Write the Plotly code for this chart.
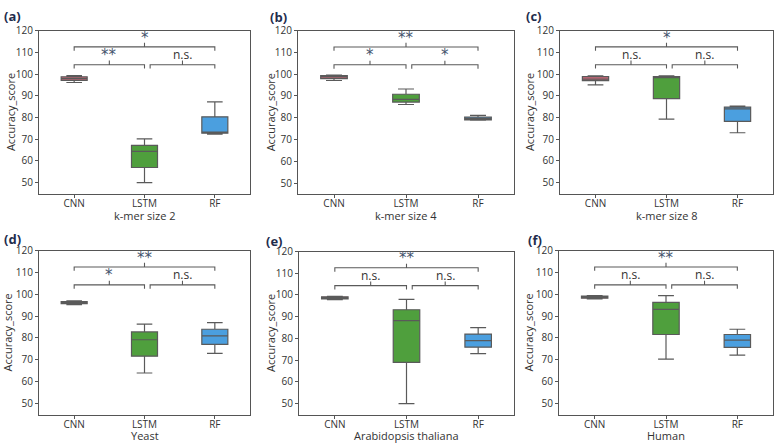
import plotly.graph_objects as go

# ---------------- data ----------------
MODELS = ["CNN", "LSTM", "RF"]
XTITLES = ["k-mer size 2", "k-mer size 4", "k-mer size 8", "Yeast", "Arabidopsis thaliana", "Human"]
YTITLE = "Accuracy_score"
PANEL_LABELS = ["(a)", "(b)", "(c)", "(d)", "(e)", "(f)"]

# rows: panels a..f ; columns: CNN, LSTM, RF
LOWER = [
    [96.1, 50.0, 72.3],
    [97.1, 86.1, 78.9],
    [95.0, 79.3, 73.0],
    [95.2, 64.0, 73.0],
    [97.9, 50.0, 73.0],
    [97.9, 70.3, 72.2],
]
Q1 = [
    [97.1, 57.0, 72.8],
    [98.0, 87.2, 79.0],
    [97.0, 88.7, 78.2],
    [95.7, 71.7, 77.1],
    [98.2, 69.0, 76.0],
    [98.2, 81.6, 75.7],
]
MEDIAN = [
    [97.9, 64.4, 73.2],
    [98.8, 88.4, 79.6],
    [97.7, 98.3, 84.0],
    [96.2, 79.2, 81.0],
    [98.9, 88.2, 79.0],
    [98.9, 93.1, 79.0],
]
Q3 = [
    [98.7, 67.2, 80.3],
    [99.3, 90.8, 80.3],
    [98.8, 98.8, 84.8],
    [96.6, 82.8, 84.0],
    [99.2, 93.2, 82.0],
    [99.2, 96.3, 81.6],
]
UPPER = [
    [99.3, 70.2, 87.2],
    [99.6, 93.2, 81.1],
    [99.2, 99.2, 85.2],
    [97.0, 86.3, 87.0],
    [99.4, 98.0, 85.0],
    [99.4, 99.4, 84.0],
]

# significance labels: CNN-LSTM, LSTM-RF, CNN-RF
SIG_LEFT = ["**", "*", "n.s.", "*", "n.s.", "n.s."]
SIG_RIGHT = ["n.s.", "*", "n.s.", "n.s.", "n.s.", "n.s."]
SIG_TOP = ["*", "**", "*", "**", "**", "**"]

COLORS = ["#d3697b", "#4f9f3d", "#4b9fdf"]

# ---------------- layout geometry (pixels) ----------------
W, H = 778, 443
X_DOM_PX = [(39, 250), (298, 514), (560, 773), (39, 250), (299, 514), (559, 773)]
Y_DOM_PX = [(23, 189), (23, 189.5), (23, 189), (247, 414), (248, 414), (247, 414)]
LABEL_POS_PX = [(2, 8), (268, 9), (524, 8), (2, 235), (264, 237), (526, 236)]
YTITLE_X_PX = [10, 270, 529, 8, 270, 529]
XTITLE_GAP_PX = [22, 22, 22, 21, 21, 21]

FONT = "Open Sans, DejaVu Sans, sans-serif"
AXCOL = "#555555"
TXTCOL = "#333333"

fig = go.Figure()
shapes = []
annotations = []

LOW_LINE, TOP_LINE = 104.3, 112.5
DROP, NOTCH = 1.8, 1.9


def bracket(x0, x1, yl, xr, yr):
    xm = (x0 + x1) / 2
    path = (f"M {x0},{yl - DROP} L {x0},{yl} L {x1},{yl} L {x1},{yl - DROP} "
            f"M {xm},{yl} L {xm},{yl + NOTCH}")
    return dict(type="path", path=path, xref=xr, yref=yr,
                line=dict(color="#5a5a5a", width=1.1))


for p in range(6):
    sfx = "" if p == 0 else str(p + 1)
    xr, yr = "x" + sfx, "y" + sfx
    for i, m in enumerate(MODELS):
        fig.add_trace(go.Box(
            x=[i], q1=[Q1[p][i]], median=[MEDIAN[p][i]], q3=[Q3[p][i]],
            lowerfence=[LOWER[p][i]], upperfence=[UPPER[p][i]],
            orientation="v", xaxis=xr, yaxis=yr,
            fillcolor=COLORS[i], line=dict(color="#5a5a5a", width=1.2),
            width=0.37, whiskerwidth=0.6, showlegend=False, boxpoints=False,
            name=m,
        ))
    x0, x1 = X_DOM_PX[p]
    ytop, ybot = Y_DOM_PX[p]
    fig.layout["xaxis" + sfx] = dict(
        domain=[x0 / W, x1 / W], anchor=yr, range=[-0.5, 2.5],
        tickvals=[0, 1, 2], ticktext=MODELS,
        showline=True, mirror=True, linecolor=AXCOL, linewidth=1,
        ticks="outside", ticklen=3, tickcolor=AXCOL, showgrid=False, zeroline=False,
        tickfont=dict(size=10, color=TXTCOL, family=FONT), ticklabelstandoff=-3,
    )
    fig.layout["yaxis" + sfx] = dict(
        domain=[1 - ybot / H, 1 - ytop / H], anchor=xr, range=[45, 120],
        tickvals=[50, 60, 70, 80, 90, 100, 110, 120],
        showline=True, mirror=True, linecolor=AXCOL, linewidth=1,
        ticks="outside", ticklen=3, tickcolor=AXCOL, showgrid=False, zeroline=False,
        tickfont=dict(size=10, color=TXTCOL, family=FONT),
    )
    # axis titles as annotations (tight spacing as in the reference)
    annotations.append(dict(
        x=(x0 + x1) / 2 / W, y=1 - (ybot + XTITLE_GAP_PX[p]) / H, xref="paper", yref="paper",
        text=XTITLES[p], showarrow=False, xanchor="center", yanchor="middle",
        font=dict(size=11, color=TXTCOL, family=FONT),
    ))
    annotations.append(dict(
        x=YTITLE_X_PX[p] / W, y=1 - (ytop + ybot) / 2 / H, xref="paper", yref="paper",
        text=YTITLE, showarrow=False, xanchor="center", yanchor="middle", textangle=-90,
        font=dict(size=11, color=TXTCOL, family=FONT),
    ))
    # brackets
    pairs = [((0, 1.0), LOW_LINE, SIG_LEFT[p]), ((1.08, 2.0), LOW_LINE, SIG_RIGHT[p]),
             ((0, 2.0), TOP_LINE, SIG_TOP[p])]
    for (a, b), yl, txt in pairs:
        shapes.append(bracket(a, b, yl, xr, yr))
        star = "*" in txt
        ty = (yl + 4.3) if star else (yl + 4.8)
        annotations.append(dict(
            x=(a + b) / 2, y=ty, xref=xr, yref=yr, text=txt,
            showarrow=False, yanchor="middle", xanchor="center",
            font=dict(size=15 if star else 12,
                      family="DejaVu Sans" if star else FONT,
                      color="#44546c" if star else TXTCOL),
        ))
    lx, ly = LABEL_POS_PX[p]
    annotations.append(dict(
        x=lx / W, y=1 - ly / H, xref="paper", yref="paper", text="<b>" + PANEL_LABELS[p] + "</b>",
        showarrow=False, xanchor="left", yanchor="middle",
        font=dict(size=13, family=FONT, color="#1f2d4d"),
    ))

fig.update_layout(
    width=W, height=H, margin=dict(l=0, r=0, t=0, b=0),
    paper_bgcolor="white", plot_bgcolor="white",
    shapes=shapes, annotations=annotations,
    font=dict(family=FONT),
)

POST = (
    "var d=document.getElementById('{plot_id}');"
    "d.style.position='absolute';d.style.top='0px';d.style.left='0px';"
    "document.documentElement.style.overflow='hidden';"
    "document.body.style.margin='0px';document.body.style.padding='0px';"
    "document.body.style.overflow='hidden';"
)

fig.write_html("out.html", config={"displayModeBar": False}, post_script=POST)
